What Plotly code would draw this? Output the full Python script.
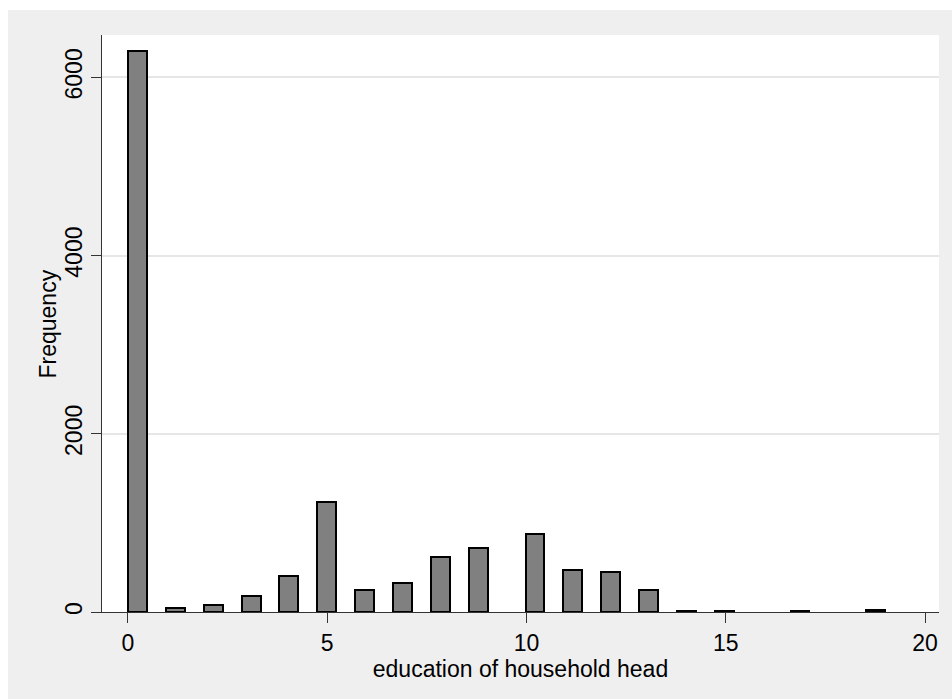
import math
import plotly.graph_objects as go

# Years of education of the household head and how many households report each value
edu_years = [0, 1, 2, 3, 4, 5, 6, 7, 8, 9, 10, 11, 12, 13, 14, 15, 17, 19]
frequency = [6290, 40, 75, 175, 400, 1240, 250, 325, 615, 715, 880, 475, 445, 250, 10, 10, 10, 20]

# Histogram binning: 40 equal bins spanning the observed range
n_bins = 40
lo, hi = min(edu_years), max(edu_years)
bin_w = (hi - lo) / n_bins

bin_idx = [min(int(math.floor((v - lo) / bin_w)), n_bins - 1) for v in edu_years]
bin_centers = [lo + (i + 0.5) * bin_w for i in bin_idx]

x_ticks = [0, 5, 10, 15, 20]
y_ticks = [0, 2000, 4000, 6000]

W, H = 952, 699
L, R, T, B = 102, 13, 35, 87
pw, ph = W - L - R, H - T - B

fig = go.Figure(
    go.Bar(
        x=bin_centers,
        y=frequency,
        width=bin_w,
        marker=dict(color="#808080", line=dict(color="#000000", width=2)),
        hoverinfo="x+y",
    )
)

font = dict(family="Liberation Sans, Arial, sans-serif", size=23, color="#000000")

fig.update_layout(
    width=W,
    height=H,
    margin=dict(l=L, r=R, t=T, b=B, pad=0),
    paper_bgcolor="#efefef",
    plot_bgcolor="#ffffff",
    showlegend=False,
    bargap=0,
    font=font,
    xaxis=dict(
        range=[-0.652, 20.35],
        tickvals=x_ticks,
        ticktext=[str(t) for t in x_ticks],
        ticks="outside",
        ticklen=10,
        tickcolor="#333333",
        showgrid=False,
        zeroline=False,
        showline=True,
        linecolor="#333333",
        linewidth=1,
        tickfont=font,
        title=dict(text="education of household head", font=font, standoff=0),
    ),
    yaxis=dict(
        range=[0, 6475],
        tickvals=y_ticks,
        ticktext=[str(t) for t in y_ticks],
        tickangle=-90,
        ticks="outside",
        ticklen=10,
        tickcolor="#333333",
        showgrid=True,
        gridcolor="#e6e6e6",
        gridwidth=1.5,
        zeroline=False,
        showline=True,
        linecolor="#333333",
        linewidth=1,
        tickfont=font,
    ),
    annotations=[
        # y-axis title, placed explicitly
        dict(text="Frequency", xref="paper", yref="paper",
             x=(47 - L) / pw, y=0.5, xanchor="center", yanchor="middle",
             textangle=-90, showarrow=False, font=font),
    ],
    shapes=[
        # thin white strip along the top of the graph region
        dict(type="rect", xref="paper", yref="paper",
             x0=-L / pw, x1=(W - L) / pw, y0=(H - B - 10) / ph, y1=(H - B) / ph,
             fillcolor="#ffffff", line=dict(width=0), layer="below"),
        # thin white strip along the left of the graph region
        dict(type="rect", xref="paper", yref="paper",
             x0=-L / pw, x1=(8 - L) / pw, y0=-B / ph, y1=(H - B) / ph,
             fillcolor="#ffffff", line=dict(width=0), layer="below"),
    ],
)

fig.write_html("out.html")
